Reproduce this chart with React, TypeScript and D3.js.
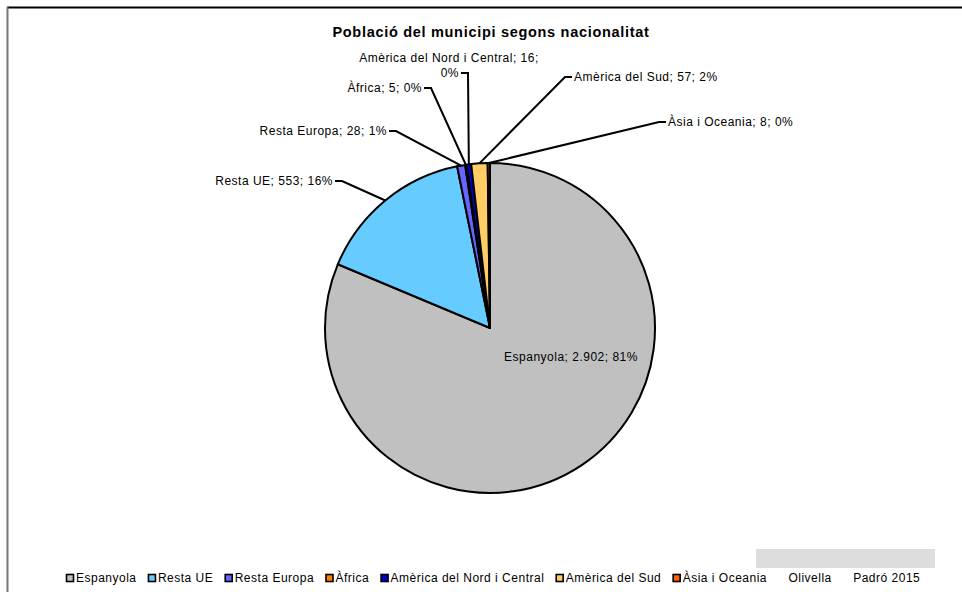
import React, { useEffect, useRef, useState } from "react";
import * as d3 from "d3";

const categories = [
  "Espanyola",
  "Resta UE",
  "Resta Europa",
  "Àfrica",
  "Amèrica del Nord i Central",
  "Amèrica del Sud",
  "Àsia i Oceania",
];
const values = [2902, 553, 28, 5, 16, 57, 8];
const percentLabels = ["81%", "16%", "1%", "0%", "0%", "2%", "0%"];
const valueLabels = ["2.902", "553", "28", "5", "16", "57", "8"];
const colors = ["#C0C0C0", "#66CCFF", "#6666FF", "#FF7F00", "#0000CC", "#FFCC66", "#FF6600"];
const extraLegend = ["Olivella", "Padró 2015"];
const title = "Població del municipi segons nacionalitat";

// label layout: text position, anchor side
const labelLayout: { twoLines: boolean; x: number; y: number; anchor: "start" | "end" | "middle"; leader: boolean }[] = [
  { twoLines: false, x: 571, y: 361, anchor: "middle", leader: false },
  { twoLines: false, x: 333, y: 185, anchor: "end", leader: true },
  { twoLines: false, x: 387, y: 135, anchor: "end", leader: true },
  { twoLines: false, x: 422, y: 92, anchor: "end", leader: true },
  { twoLines: true, x: 459, y: 62, anchor: "end", leader: true },
  { twoLines: false, x: 574, y: 81, anchor: "start", leader: true },
  { twoLines: false, x: 668, y: 126, anchor: "start", leader: true },
];

const W = 962;
const H = 592;
const cx = 490;
const cy = 328;
const R = 165;
const FONT = "'Liberation Sans', Arial, sans-serif";

export default function App() {
  const legendRef = useRef<SVGGElement>(null);
  const [widths, setWidths] = useState<number[] | null>(null);

  const pie = d3.pie<number>().sort(null).startAngle(0).endAngle(2 * Math.PI)(values);
  const arc = d3.arc<d3.PieArcDatum<number>>().innerRadius(0).outerRadius(R);
  const edge = d3.arc<d3.PieArcDatum<number>>().innerRadius(R).outerRadius(R);

  const legendItems = [
    ...categories.map((c, i) => ({ text: c, color: colors[i] as string | null })),
    ...extraLegend.map((t) => ({ text: t, color: null as string | null })),
  ];

  useEffect(() => {
    if (legendRef.current) {
      const ts = Array.from(legendRef.current.querySelectorAll("text.lg")) as SVGTextElement[];
      setWidths(ts.map((t) => t.getComputedTextLength()));
    }
  }, []);

  // legend layout
  const boxSize = 7;
  const textGap = 10;
  const itemGap = 11.4;
  let lx = 66;
  const legendPos = legendItems.map((_, i) => {
    const x = lx;
    const w = widths ? widths[i] : 60;
    lx += textGap + w + itemGap;
    return x;
  });
  const legendY = 582;

  return (
    <svg
      width={W}
      height={H}
      style={{ position: "absolute", left: 0, top: 0, background: "#fff" }}
      fontFamily={FONT}
    >
      <rect x={0} y={0} width={W} height={H} fill="#fff" />
      {/* frame */}
      <line x1={7} y1={7.5} x2={W} y2={7.5} stroke="#000" strokeWidth={2} />
      <line x1={7.5} y1={7} x2={7.5} y2={H} stroke="#777" strokeWidth={2} />

      <text x={491} y={37} textAnchor="middle" fontWeight="bold" fontSize={14.5} letterSpacing={0.7} fill="#000">
        {title}
      </text>

      <g transform={`translate(${cx},${cy})`}>
        {pie.map((d, i) => (
          <path key={i} d={arc(d) || ""} fill={colors[i]} stroke="#000" strokeWidth={2} strokeLinejoin="round" />
        ))}
      </g>

      {/* leader lines */}
      <g>
        {pie.map((d, i) => {
          const L = labelLayout[i];
          if (!L.leader) return null;
          const [ex, ey] = edge.centroid(d);
          const px = cx + ex;
          const py = cy + ey;
          const lastLineY = L.y + (L.twoLines ? 15 : 0);
          const barY = lastLineY - 4;
          let x0: number, x1: number;
          if (L.anchor === "end") {
            x0 = L.x + 2;
            x1 = L.x + 9;
          } else {
            x0 = L.x - 2;
            x1 = L.x - 9;
          }
          return (
            <polyline
              key={i}
              points={`${x0},${barY} ${x1},${barY} ${px},${py}`}
              fill="none"
              stroke="#000"
              strokeWidth={2}
            />
          );
        })}
      </g>

      {/* data labels */}
      <g>
        {pie.map((d, i) => {
          const L = labelLayout[i];
          const s = categories[i];
          const v = valueLabels[i];
          const p = percentLabels[i];
          const lines = L.twoLines ? [`${s}; ${v};`, p] : [`${s}; ${v}; ${p}`];
          return (
            <g key={i}>
              {lines.map((ln, k) => (
                <text
                  key={k}
                  x={L.twoLines && k === 0 ? L.x - 10 : L.x}
                  y={L.y + k * 15}
                  textAnchor={L.twoLines && k === 0 ? "middle" : L.anchor}
                  fontSize={12}
                  letterSpacing={0.5}
                  fill="#000"
                >
                  {ln}
                </text>
              ))}
            </g>
          );
        })}
      </g>

      {/* gray box */}
      <rect x={756} y={549} width={179} height={19} fill="#DDDDDD" />

      {/* legend */}
      <g ref={legendRef}>
        {legendItems.map((it, i) => (
          <g key={i}>
            {it.color && (
              <rect
                x={legendPos[i] + 0.5}
                y={legendY - 7.5}
                width={boxSize}
                height={boxSize}
                fill={it.color}
                stroke="#000"
                strokeWidth={1.6}
              />
            )}
            <text
              className="lg"
              x={legendPos[i] + textGap}
              y={legendY}
              fontSize={12}
              letterSpacing={0.5}
              fill="#000"
            >
              {it.text}
            </text>
          </g>
        ))}
      </g>
    </svg>
  );
}
